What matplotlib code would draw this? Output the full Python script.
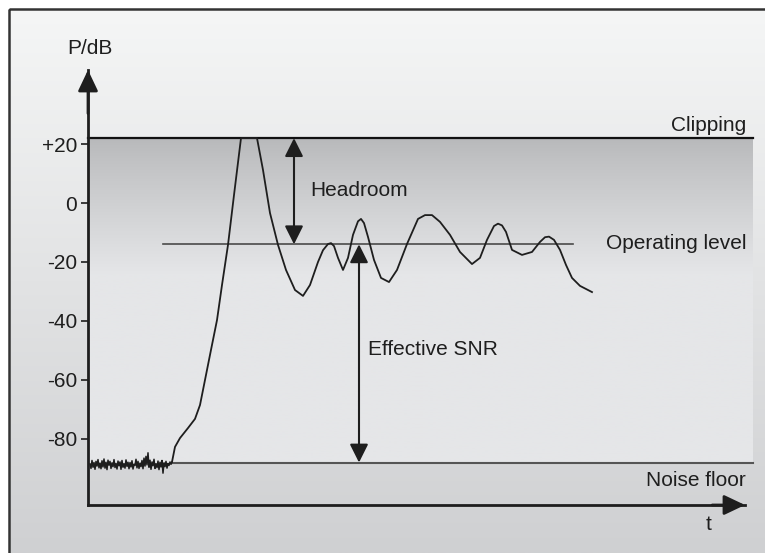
import numpy as np
import matplotlib
matplotlib.use("Agg")
import matplotlib.pyplot as plt
from matplotlib.colors import to_rgb
from matplotlib.patches import Rectangle

plt.rcParams["font.family"] = ["Liberation Sans", "DejaVu Sans"]

# levels in dB
CLIP_DB = 22
OPERATING_DB = -14
NOISE_DB = -88
YTICKS = [20, 0, -20, -40, -60, -80]
YTICK_LABELS = ["+20", "0", "-20", "-40", "-60", "-80"]

# noise floor before the signal starts (t = 2 .. 84)
noise_t = list(range(2, 85))
noise_db = [-88.5, -90.0, -87.3, -89.6, -88.0, -90.3, -87.6, -89.2, -87.0, -89.8,
            -88.2, -90.1, -87.4, -89.5, -86.8, -89.9, -87.9, -90.4, -87.2, -88.9,
            -87.6, -90.0, -88.1, -89.4, -87.0, -89.7, -88.3, -90.2, -87.5, -89.1,
            -87.8, -90.3, -87.3, -89.6, -88.4, -89.9, -87.1, -89.3, -87.9, -90.1,
            -88.0, -89.5, -87.4, -90.2, -88.6, -89.0, -86.9, -89.8, -87.6, -90.0,
            -88.2, -89.4, -87.3, -90.1, -86.5, -89.2, -85.9, -88.8, -84.7, -89.6,
            -87.2, -90.3, -87.8, -89.1, -86.9, -90.0, -88.4, -89.7, -87.5, -90.4,
            -87.9, -89.5, -87.3, -91.6, -88.1, -89.4, -87.6, -89.9, -88.3, -89.0,
            -87.8, -88.6, -87.8]

# programme signal
signal_t = [84, 87, 92, 100, 107, 112, 117, 123, 129, 134, 140, 146, 153, 169,
            175, 182, 190, 198, 207, 215, 222, 230, 235, 240, 243, 246, 250,
            255, 260, 265, 270, 273, 276, 280, 286, 293, 301, 309, 319, 330,
            337, 344, 352, 362, 372, 384, 392, 399, 406, 410, 414, 418, 424,
            434, 444, 452, 457, 461, 466, 472, 478, 484, 492, 504]
signal_db = [-87.8, -82.7, -79.7, -76.3, -73.2, -68.5, -60.0, -49.8, -39.7,
             -27.8, -14.2, 2.7, 22.0, 22.0, 11.2, -3.4, -14.2, -22.7, -29.5,
             -31.5, -27.8, -20.0, -16.0, -13.9, -13.6, -14.6, -18.6, -22.7,
             -18.6, -10.8, -6.2, -5.4, -6.8, -11.5, -19.3, -25.4, -26.8, -22.7,
             -13.9, -5.4, -4.1, -4.1, -6.4, -10.8, -16.6, -20.7, -18.6, -12.5,
             -7.8, -7.0, -7.6, -9.8, -15.9, -17.6, -16.6, -13.2, -11.6, -11.4,
             -12.5, -15.9, -21.0, -25.4, -28.1, -30.2]

W, H = 765, 553
INK = "#1e1e1e"


def vgrad(top, bottom, n=256):
    a = np.array(to_rgb(top))
    b = np.array(to_rgb(bottom))
    f = np.linspace(0, 1, n)[:, None]
    return (a * (1 - f) + b * f)[:, None, :]


def main():
    fig = plt.figure(figsize=(W / 100, H / 100), dpi=100)
    fig.patch.set_facecolor("white")

    # panel background with its frame
    bg = fig.add_axes([0, 0, 1, 1], zorder=-1)
    bg.set_xlim(0, W)
    bg.set_ylim(H, 0)
    bg.axis("off")
    bg.imshow(vgrad("#f5f6f6", "#cfd0d2"), extent=(9, W, H, 9), aspect="auto")
    bg.add_patch(Rectangle((9, 9), W + 20, H + 20, fill=False,
                           edgecolor="#333333", lw=1.8))

    # main axes: x=88..745 px, y=70..505 px
    ax = fig.add_axes([88 / W, (H - 505) / H, (745 - 88) / W, (505 - 70) / H])
    ax.set_facecolor("none")
    for side in ["top", "right"]:
        ax.spines[side].set_visible(False)
    for side in ["left", "bottom"]:
        ax.spines[side].set_linewidth(2)
        ax.spines[side].set_color(INK)
    ax.set_xticks([])
    ax.set_yticks(YTICKS)
    ax.set_yticklabels(YTICK_LABELS)
    ax.tick_params(axis="y", direction="out", length=5, width=1.2,
                   colors=INK, labelsize=15, pad=3)

    # axis arrowheads
    head = dict(arrowstyle="-|>,head_length=0.8,head_width=0.38",
                color=INK, lw=2, mutation_scale=16, shrinkA=0, shrinkB=0)
    ax.annotate("", xy=(0, 1), xytext=(0, 0.9), xycoords="axes fraction",
                arrowprops=head, annotation_clip=False)
    ax.annotate("", xy=(1, 0), xytext=(0.95, 0), xycoords="axes fraction",
                arrowprops=head, annotation_clip=False)

    # shaded dynamic range between noise floor and clipping
    lvl = np.linspace(CLIP_DB, NOISE_DB, 256)
    mix = np.clip((CLIP_DB - lvl) / (CLIP_DB - OPERATING_DB + 10), 0, 1) ** 0.9
    top = np.array(to_rgb("#b8b9bb"))
    low = np.array(to_rgb("#e5e6e8"))
    shade = (top * (1 - mix[:, None]) + low * mix[:, None])[:, None, :]
    ax.imshow(shade, extent=(0, 665, NOISE_DB, CLIP_DB), aspect="auto",
              clip_on=False, zorder=0)
    ax.set_xlim(0, 657)
    ax.set_ylim(-102.4, 45.1)

    # reference levels
    ax.plot([0, 665], [CLIP_DB, CLIP_DB], color="#111111", lw=1.6,
            clip_on=False, zorder=2)
    ax.plot([75, 485], [OPERATING_DB, OPERATING_DB], color="#4a4a4a", lw=1.2,
            zorder=2)
    ax.plot([84, 665], [NOISE_DB, NOISE_DB], color="#555555", lw=1.5,
            clip_on=False, zorder=2)

    # signal
    ax.plot(noise_t, noise_db, color=INK, lw=1.1, zorder=3)
    ax.plot(signal_t, signal_db, color=INK, lw=1.3, zorder=3)

    # headroom and SNR spans
    span = dict(arrowstyle="<|-|>,head_length=0.7,head_width=0.35",
                color=INK, lw=1.5, mutation_scale=16, shrinkA=0, shrinkB=0)
    ax.annotate("", xy=(206, CLIP_DB), xytext=(206, OPERATING_DB),
                arrowprops=span, zorder=4)
    ax.annotate("", xy=(271, OPERATING_DB), xytext=(271, NOISE_DB),
                arrowprops=span, zorder=4)

    txt = dict(fontsize=15, color=INK)
    ax.text(222, 4.4, "Headroom", ha="left", va="center", **txt)
    ax.text(280, -49.8, "Effective SNR", ha="left", va="center", **txt)
    ax.text(658, 26.4, "Clipping", ha="right", va="center", **txt)
    ax.text(658, -13.6, "Operating level", ha="right", va="center", **txt)
    ax.text(658, -94.2, "Noise floor", ha="right", va="center", **txt)
    ax.text(621, -109, "t", ha="center", va="center", **txt)
    ax.text(2, 52.5, "P/dB", ha="center", va="center", **txt)

    fig.savefig("out.png", dpi=100)
    plt.close(fig)


if __name__ == "__main__":
    main()
